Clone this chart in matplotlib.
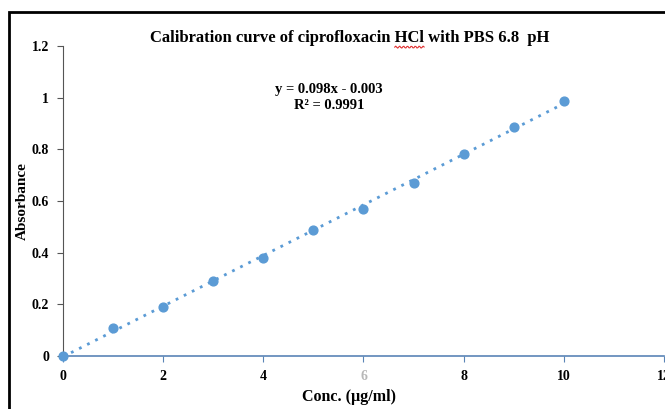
import matplotlib.pyplot as plt
from matplotlib.patches import Rectangle
import numpy as np

conc = [0, 1, 2, 3, 4, 5, 6, 7, 8, 9, 10]
absorbance = [0.0, 0.108, 0.19, 0.29, 0.38, 0.488, 0.57, 0.67, 0.78, 0.888, 0.988]
slope, intercept = 0.098, -0.003
r_squared = 0.9991
x_ticks = [0, 2, 4, 6, 8, 10, 12]
y_ticks = [0, 0.2, 0.4, 0.6, 0.8, 1.0, 1.2]
y_tick_labels = ['0', '0.2', '0.4', '0.6', '0.8', '1', '1.2']

BLUE = '#5B9BD5'
SERIF = 'Liberation Serif'
TITLE = 'Calibration curve of ciprofloxacin HCl with PBS 6.8  pH'

fig = plt.figure(figsize=(6.65, 4.09), dpi=100)
ax = fig.add_axes([0.0947, 0.1296, 0.9038, 0.758])

# outer frame of the chart box (runs off the right and bottom of the page)
fig.patches.append(Rectangle((0.0128, -0.05), 1.2, 1.0207,
                             transform=fig.transFigure, fill=False,
                             edgecolor='black', linewidth=2.0, zorder=0))

ax.scatter(conc, absorbance, s=40, color=BLUE, zorder=3, clip_on=False)
fit_x = np.array([conc[0], conc[-1]])
ax.plot(fit_x, slope * fit_x + intercept, linestyle=(0, (1, 2.25)),
        color=BLUE, linewidth=2.0, zorder=2)

ax.set_xlim(0, 12)
ax.set_ylim(0, 1.2)
ax.set_xticks(x_ticks)
ax.set_yticks(y_ticks)
ax.set_yticklabels(y_tick_labels)

for side in ('top', 'right'):
    ax.spines[side].set_visible(False)
ax.spines['left'].set_color('#555555')
ax.spines['bottom'].set_color('#5A84B6')
ax.spines['bottom'].set_linewidth(1.2)
ax.tick_params(axis='y', length=4, color='#555555', pad=6)
ax.tick_params(axis='x', length=4, color='#5A84B6', pad=6)

for lbl in ax.get_xticklabels() + ax.get_yticklabels():
    lbl.set_fontfamily(SERIF)
    lbl.set_fontweight('bold')
    lbl.set_fontsize(10)
ax.get_xticklabels()[3].set_color('#B8B8B8')

ax.set_xlabel('Conc. (\u00b5g/ml)', fontfamily=SERIF, fontweight='bold',
              fontsize=11.5)
ax.xaxis.set_label_coords(0.476, -0.105)
ax.set_ylabel('Absorbance', fontfamily=SERIF, fontweight='bold',
              fontsize=11)
ax.yaxis.set_label_coords(-0.057, 0.5)

title = fig.text(0.526, 0.908, TITLE, ha='center', va='center',
                 fontfamily=SERIF, fontweight='bold', fontsize=12)

# red spell-check squiggle under "HCl"
fig.canvas.draw()
renderer = fig.canvas.get_renderer()
tb = title.get_window_extent(renderer)
probe = fig.text(0, 0, TITLE.split('HCl')[0], fontfamily=SERIF,
                 fontweight='bold', fontsize=12)
x0 = tb.x0 + probe.get_window_extent(renderer).width
probe.set_text('HCl')
x1 = x0 + probe.get_window_extent(renderer).width
probe.remove()
wx = np.linspace(x0, x1, 30)
wy = tb.y0 - 1.5 + 1.0 * np.sin((wx - x0) * 1.6)
fig.lines.append(plt.Line2D(wx / fig.bbox.width, wy / fig.bbox.height,
                            transform=fig.transFigure, color='#E03030',
                            linewidth=0.8))

ax.text(0.4425, 0.834, f'y = {slope}x - {abs(intercept)}\nR\u00b2 = {r_squared}',
        transform=ax.transAxes, ha='center', va='center', fontfamily=SERIF,
        fontweight='bold', fontsize=10.5, linespacing=1.3)

fig.savefig('out.png', dpi=100)
